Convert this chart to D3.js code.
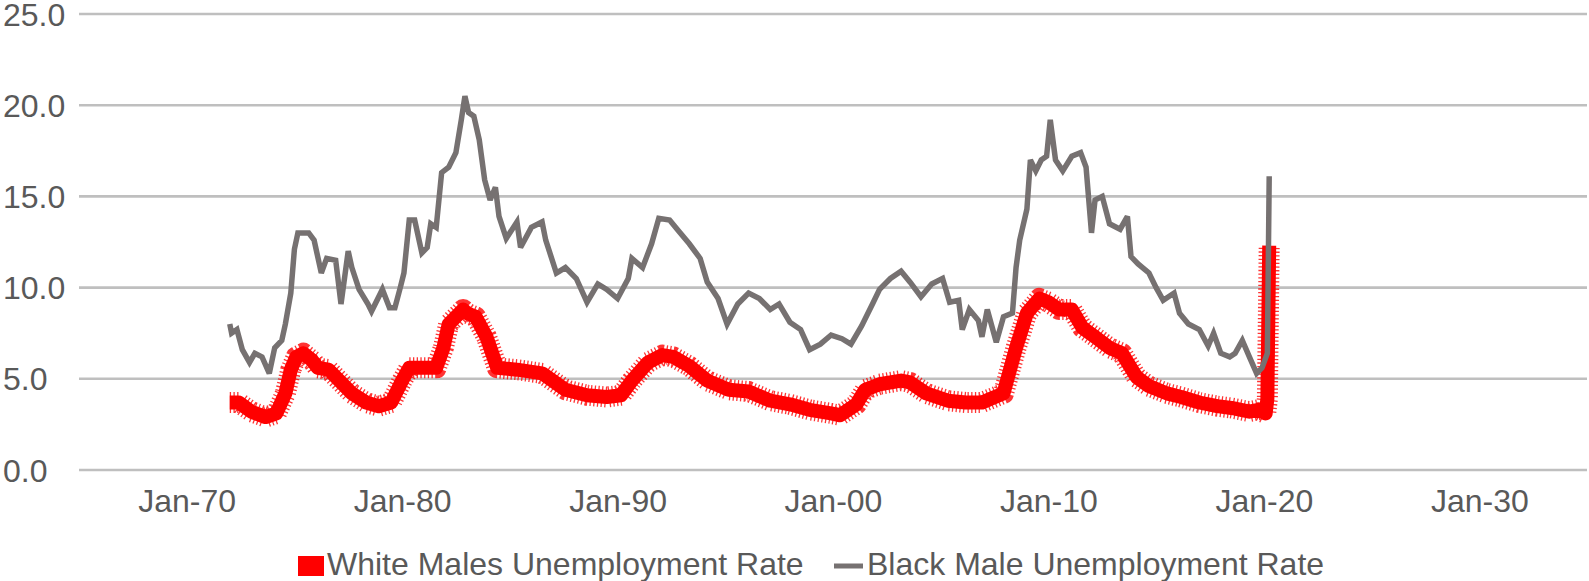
<!DOCTYPE html>
<html>
<head>
<meta charset="utf-8">
<script src="https://cdn.jsdelivr.net/npm/d3@7"></script>
<style>
  html, body { margin: 0; padding: 0; background: #fff; }
  svg { display: block; }
  text { font-family: "Liberation Sans", Arial, sans-serif; fill: #595959; }
</style>
</head>
<body>
<svg id="chart" width="1589" height="581"></svg>
<script>
// ---------------- DATA ----------------
const seriesNames = ["White Males Unemployment Rate", "Black Male Unemployment Rate"];

const whiteDates = ["1972-01","1972-06","1973-01","1973-09","1974-03","1974-08","1974-11","1975-02","1975-06","1975-11",
  "1976-02","1976-08","1977-02","1977-09","1978-05","1978-12","1979-07","1980-01","1980-05","1980-08",
  "1981-02","1981-08","1981-12","1982-03","1982-09","1982-11","1983-01","1983-06","1983-12","1984-06",
  "1985-05","1986-07","1987-08","1988-08","1989-07","1990-03","1990-09","1991-06","1992-02","1992-08",
  "1993-05","1994-03","1995-03","1996-02","1997-02","1998-01","1998-12","1999-12","2000-05","2001-02",
  "2001-07","2002-03","2003-03","2003-08","2004-05","2005-05","2006-03","2006-12","2007-12","2008-07",
  "2009-01","2009-08","2010-01","2010-07","2011-02","2011-08","2012-03","2012-11","2013-06","2014-02",
  "2014-09","2015-07","2016-03","2017-01","2017-11","2018-07","2019-05","2019-10","2020-02","2020-03","2020-04"];
const whiteValues = [3.7,3.7,3.2,2.9,3.1,4.2,5.5,6.2,6.4,6.0,
  5.6,5.5,4.9,4.2,3.7,3.5,3.7,4.9,5.6,5.6,
  5.6,5.6,6.7,8.0,8.6,8.8,8.6,8.4,7.3,5.6,
  5.5,5.3,4.4,4.1,4.0,4.1,4.9,5.9,6.3,6.2,
  5.7,4.9,4.4,4.3,3.8,3.6,3.3,3.1,3.0,3.6,
  4.4,4.7,4.9,4.8,4.2,3.8,3.7,3.7,4.2,6.7,
  8.6,9.4,9.2,8.8,8.8,7.8,7.3,6.7,6.4,5.1,
  4.6,4.2,4.0,3.7,3.5,3.4,3.2,3.3,3.1,3.9,12.3];

const blackDates = ["1972-01","1972-02","1972-05","1972-08","1972-12","1973-03","1973-07","1973-11","1974-02","1974-06",
  "1974-08","1974-11","1975-01","1975-03","1975-09","1975-12","1976-04","1976-07","1976-12","1977-03",
  "1977-07","1977-09","1978-01","1978-06","1978-08","1979-02","1979-06","1979-09","1979-12","1980-02",
  "1980-05","1980-08","1980-12","1981-03","1981-05","1981-08","1981-11","1982-03","1982-07","1982-10",
  "1982-12","1983-02","1983-05","1983-08","1983-11","1984-02","1984-05","1984-07","1984-11","1985-05",
  "1985-07","1986-01","1986-07","1986-09","1987-03","1987-08","1988-02","1988-08","1989-02","1989-07",
  "1990-01","1990-07","1990-09","1991-03","1991-08","1991-12","1992-06","1992-11","1993-05","1993-11",
  "1994-03","1994-09","1995-02","1995-08","1996-02","1996-08","1997-02","1997-07","1998-01","1998-07",
  "1998-12","1999-06","1999-12","2000-06","2000-11","2001-05","2001-11","2002-03","2002-09","2003-03",
  "2003-08","2004-02","2004-08","2005-02","2005-06","2005-11","2006-01","2006-05","2006-10","2006-12",
  "2007-03","2007-08","2007-12","2008-05","2008-07","2008-09","2009-01","2009-03","2009-06","2009-09",
  "2009-12","2010-02","2010-05","2010-09","2011-02","2011-07","2011-10","2012-01","2012-03","2012-07",
  "2012-11","2013-05","2013-09","2013-11","2014-03","2014-09","2015-01","2015-05","2015-11","2016-02",
  "2016-07","2017-01","2017-06","2017-09","2018-01","2018-06","2018-09","2019-01","2019-05","2019-09",
  "2019-12","2020-03","2020-04"];
const blackValues = [8.0,7.5,7.7,6.6,5.9,6.4,6.2,5.3,6.7,7.1,
  8.0,9.7,12.1,13.0,13.0,12.6,10.8,11.6,11.5,9.1,
  12.0,11.1,9.9,9.1,8.7,9.9,8.9,8.9,10.0,10.8,
  13.7,13.7,11.9,12.2,13.5,13.3,16.3,16.6,17.4,19.2,
  20.5,19.6,19.4,18.1,15.9,14.8,15.5,13.9,12.7,13.6,
  12.2,13.3,13.6,12.6,10.8,11.1,10.5,9.2,10.2,9.9,
  9.4,10.5,11.6,11.1,12.4,13.8,13.7,13.1,12.4,11.6,
  10.3,9.4,8.0,9.1,9.7,9.4,8.8,9.1,8.1,7.7,
  6.6,6.9,7.4,7.2,6.9,7.9,9.1,9.9,10.5,10.9,
  10.3,9.5,10.2,10.5,9.2,9.3,7.7,8.8,8.2,7.3,
  8.8,7.0,8.4,8.6,11.1,12.6,14.3,17.0,16.4,17.0,
  17.2,19.2,17.0,16.4,17.2,17.4,16.6,13.0,14.8,15.0,
  13.5,13.2,13.9,11.7,11.3,10.8,10.0,9.3,9.7,8.6,
  8.0,7.7,6.8,7.5,6.4,6.2,6.4,7.1,6.2,5.3,
  5.6,6.4,16.1];

const yTicks = [0, 5, 10, 15, 20, 25];
const xTickYears = [1970, 1980, 1990, 2000, 2010, 2020, 2030];
const xTickLabels = ["Jan-70", "Jan-80", "Jan-90", "Jan-00", "Jan-10", "Jan-20", "Jan-30"];

// ---------------- CHART ----------------
const svg = d3.select("#chart");
const parse = d3.timeParse("%Y-%m");
const white = whiteDates.map((d, i) => ({ date: parse(d), value: whiteValues[i] }));
const black = blackDates.map((d, i) => ({ date: parse(d), value: blackValues[i] }));

const x = d3.scaleTime()
  .domain([new Date(1965, 0, 1), new Date(2035, 0, 1)])
  .range([79, 1587]);
const y = d3.scaleLinear().domain([0, 25]).range([470, 14]);

// gridlines
svg.append("g").selectAll("line").data(yTicks).join("line")
  .attr("x1", x.range()[0]).attr("x2", x.range()[1])
  .attr("y1", d => y(d)).attr("y2", d => y(d))
  .attr("stroke", "#bfbfbf").attr("stroke-width", 2.6);

// y labels (left aligned)
svg.append("g").selectAll("text").data(yTicks).join("text")
  .attr("x", 3).attr("y", d => y(d) + 11.5)
  .attr("font-size", 32)
  .text(d => d3.format(".1f")(d));

// x axis labels
const xAxis = d3.axisBottom(x)
  .tickValues(xTickYears.map(yr => new Date(yr, 0, 1)))
  .tickFormat((d, i) => xTickLabels[i])
  .tickSize(0).tickPadding(19);
const gx = svg.append("g").attr("transform", `translate(0,${y(0)})`).call(xAxis);
gx.select(".domain").remove();
gx.selectAll("text").attr("font-size", 32).attr("font-family", "Liberation Sans, Arial, sans-serif").attr("fill", "#595959");

const line = d3.line().x(d => x(d.date)).y(d => y(d.value));

// white males series: thick red with ragged marker fringe
svg.append("path").datum(white)
  .attr("d", line).attr("fill", "none")
  .attr("stroke", "#ff0000").attr("stroke-width", 21)
  .attr("stroke-dasharray", "1.3 2.4").attr("stroke-linejoin", "round")
  .attr("opacity", 0.8);
svg.append("path").datum(white)
  .attr("d", line).attr("fill", "none")
  .attr("stroke", "#ff0000").attr("stroke-width", 14)
  .attr("stroke-linejoin", "round");

// black male series
svg.append("path").datum(black)
  .attr("d", line).attr("fill", "none")
  .attr("stroke", "#767171").attr("stroke-width", 5.5)
  .attr("stroke-linejoin", "miter").attr("stroke-miterlimit", 3);

// legend
const lg = svg.append("g");
lg.append("rect").attr("x", 298).attr("y", 556).attr("width", 26).attr("height", 20).attr("fill", "#ff0000");
lg.append("text").attr("x", 327).attr("y", 575).attr("font-size", 32).text(seriesNames[0]);
lg.append("line").attr("x1", 834).attr("x2", 863).attr("y1", 566).attr("y2", 566)
  .attr("stroke", "#767171").attr("stroke-width", 5);
lg.append("text").attr("x", 867).attr("y", 575).attr("font-size", 32).text(seriesNames[1]);
</script>
</body>
</html>
